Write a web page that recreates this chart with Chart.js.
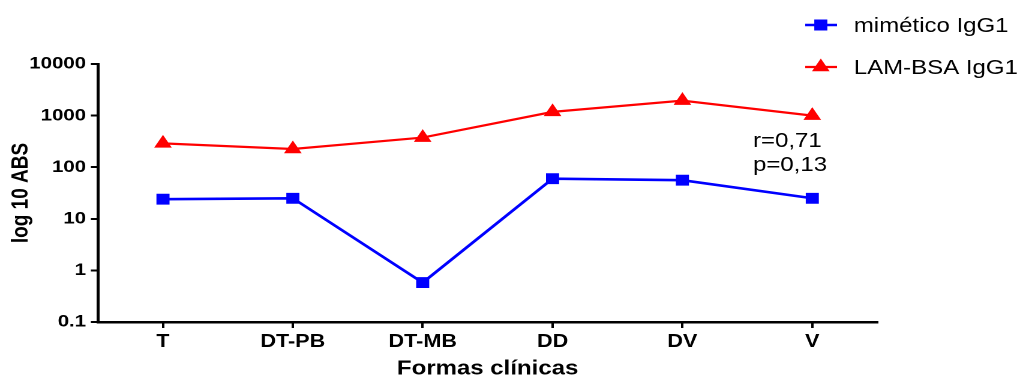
<!DOCTYPE html>
<html>
<head>
<meta charset="utf-8">
<title>Formas clínicas</title>
<script src="https://cdn.jsdelivr.net/npm/chart.js@4/dist/chart.umd.min.js"></script>
<style>
  html, body { margin: 0; padding: 0; background: #fff; overflow: hidden; }
  #wrap {
    position: absolute; left: 0; top: 0;
    width: 849px; height: 381px;
    transform: scaleX(1.2); transform-origin: 0 0;
  }
</style>
</head>
<body>
<div id="wrap"><canvas id="c"></canvas></div>
<script>
// Clinical forms on the x axis
const categories = ['T', 'DT-PB', 'DT-MB', 'DD', 'DV', 'V'];
// IgG1 levels per form (log scale)
const mimeticoIgG1 = [24, 25, 0.58, 60, 56, 25];
const lamBsaIgG1 = [290, 225, 375, 1180, 1950, 1000];
// Decade ticks of the y axis and their printed labels
const yTicks = [0.1, 1, 10, 100, 1000, 10000];
const yTickLabels = ['0.1', '1', '10', '100', '1000', '10000'];
const seriesNames = ['mimético IgG1', 'LAM-BSA IgG1'];
const statLines = ['r=0,71', 'p=0,13'];

const FONT = "'Liberation Sans', Arial, Helvetica, sans-serif";

// Legend in the top-right corner and the correlation note
const sideText = {
  id: 'sideText',
  afterDraw(chart) {
    const ctx = chart.ctx;
    ctx.save();
    const rows = [25, 67];
    chart.data.datasets.forEach((ds, i) => {
      const y = rows[i];
      ctx.strokeStyle = ds.borderColor;
      ctx.lineWidth = ds.borderWidth;
      ctx.beginPath();
      ctx.moveTo(671, y);
      ctx.lineTo(697.5, y);
      ctx.stroke();
      ctx.fillStyle = ds.pointBackgroundColor;
      ctx.strokeStyle = ds.pointBorderColor;
      ctx.lineWidth = ds.pointBorderWidth;
      Chart.helpers.drawPoint(ctx, {
        pointStyle: ds.pointStyle,
        radius: ds.pointRadius,
        borderWidth: ds.pointBorderWidth,
        rotation: 0
      }, 684, y);
      ctx.fillStyle = '#000';
      ctx.font = '20px ' + FONT;
      ctx.textAlign = 'left';
      ctx.textBaseline = 'alphabetic';
      ctx.fillText(ds.label, 711.5, y + 7);
    });
    ctx.font = '20px ' + FONT;
    ctx.fillStyle = '#000';
    ctx.fillText(statLines[0], 627.5, 147);
    ctx.fillText(statLines[1], 627.5, 171);
    ctx.restore();
  }
};

new Chart(document.getElementById('c'), {
  type: 'line',
  data: {
    labels: categories,
    datasets: [
      {
        label: seriesNames[0],
        data: mimeticoIgG1,
        borderColor: '#0000ff',
        backgroundColor: '#0000ff',
        borderWidth: 2.6,
        pointStyle: 'rect',
        pointRadius: 7,
        pointBackgroundColor: '#0000ff',
        pointBorderColor: '#0000ff',
        pointBorderWidth: 1,
        tension: 0
      },
      {
        label: seriesNames[1],
        data: lamBsaIgG1,
        borderColor: '#ff0000',
        backgroundColor: '#ff0000',
        borderWidth: 2.2,
        pointStyle: 'triangle',
        pointRadius: 7.5,
        pointBackgroundColor: '#ff0000',
        pointBorderColor: '#ff0000',
        pointBorderWidth: 1,
        tension: 0
      }
    ]
  },
  options: {
    responsive: true,
    maintainAspectRatio: false,
    animation: false,
    devicePixelRatio: 2,
    layout: { padding: { left: 0, top: 64, right: 118, bottom: 0 } },
    plugins: {
      legend: { display: false },
      tooltip: { enabled: false }
    },
    scales: {
      x: {
        type: 'category',
        offset: true,
        afterFit(scale) { scale.height = 59; },
        grid: {
          display: true, drawOnChartArea: false, drawTicks: true,
          tickLength: 6, color: '#000', lineWidth: 2, offset: false
        },
        border: { display: true, color: '#000', width: 2.5 },
        ticks: {
          color: '#000', font: { family: FONT, size: 18, weight: 'bold' },
          padding: 3, maxRotation: 0, autoSkip: false
        },
        title: {
          display: true, text: 'Formas clínicas', color: '#000',
          font: { family: FONT, size: 20, weight: 'bold' },
          padding: { top: 0, bottom: 0 }
        }
      },
      y: {
        type: 'logarithmic',
        min: yTicks[0],
        max: yTicks[yTicks.length - 1],
        afterFit(scale) { scale.width = 81.7; },
        afterBuildTicks(scale) { scale.ticks = yTicks.map(v => ({ value: v })); },
        grid: {
          display: true, drawOnChartArea: false, drawTicks: true,
          tickLength: 6, color: '#000', lineWidth: 2
        },
        border: { display: true, color: '#000', width: 2.5 },
        ticks: {
          color: '#000', font: { family: FONT, size: 17, weight: 'bold' },
          padding: 4, autoSkip: false,
          callback: (v) => {
            const k = yTicks.findIndex(t => Math.abs(t - v) < t * 1e-6);
            return k >= 0 ? yTickLabels[k] : '';
          }
        },
        title: {
          display: true, text: 'log 10 ABS', color: '#000',
          font: { family: FONT, size: 19, weight: 'bold' },
          padding: { top: 6.6, bottom: 0 }
        }
      }
    }
  },
  plugins: [sideText]
});
</script>
</body>
</html>
